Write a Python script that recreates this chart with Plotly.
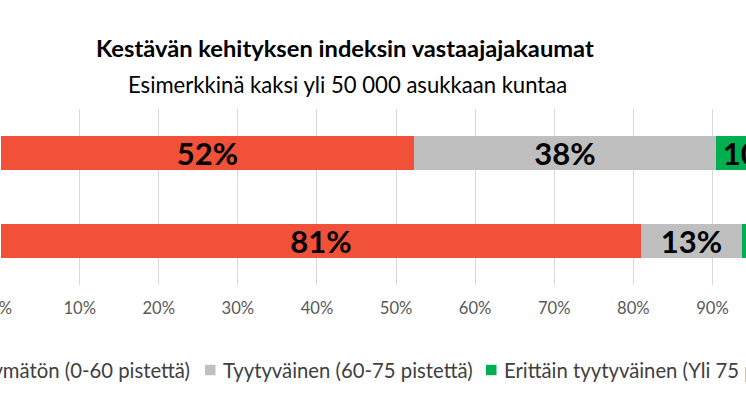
import plotly.graph_objects as go

# ---- data ----
categories = ["Kunta A", "Kunta B"]
series_names = [
    "Tyytymätön (0-60 pistettä)",
    "Tyytyväinen (60-75 pistettä)",
    "Erittäin tyytyväinen (Yli 75 pistettä)",
]
tyytymaton = [0.523, 0.810]
tyytyvainen = [0.381, 0.127]
erittain = [0.096, 0.063]
colors = ["#F15039", "#BFBFBF", "#00B050"]
tick_values = [0, 0.1, 0.2, 0.3, 0.4, 0.5, 0.6, 0.7, 0.8, 0.9, 1.0]

title_text = "Kestävän kehityksen indeksin vastaajajakaumat"
subtitle_text = "Esimerkkinä kaksi yli 50 000 asukkaan kuntaa"

W, H = 746, 419
FONT = "Lato"
PLOT_TOP, PLOT_BOTTOM = 109, 285

fig = go.Figure()
for name, vals, col in zip(series_names, [tyytymaton, tyytyvainen, erittain], colors):
    fig.add_trace(go.Bar(
        y=categories, x=vals, name=name, orientation="h",
        marker=dict(color=col, line=dict(width=0)),
        texttemplate="%{x:.0%}", textposition="inside", insidetextanchor="middle",
        textangle=0, constraintext="none",
        textfont=dict(family=FONT, size=31, color="black", weight="bold"),
        showlegend=False,
    ))

def py(pix):
    return (PLOT_BOTTOM - pix) / (PLOT_BOTTOM - PLOT_TOP)

def px(pix):
    return pix / W

annotations = [
    dict(text="<b>" + title_text + "</b>", x=px(345), y=py(48), xref="paper", yref="paper",
         xanchor="center", yanchor="middle", showarrow=False,
         font=dict(family=FONT, size=23.7, color="black")),
    dict(text=subtitle_text, x=px(347), y=py(85), xref="paper", yref="paper",
         xanchor="center", yanchor="middle", showarrow=False,
         font=dict(family=FONT, size=22.1, color="black")),
]

# legend drawn manually (the original legend is wider than the visible area)
leg_y = 369.5
leg_font = dict(family=FONT, size=20.3, color="#404040")
leg_items = [
    (192.3, "right", -85),
    (220.5, "left", 205),
    (502, "left", 486),
]
shapes = []
for (tx, anchor, sq), name, col in zip(leg_items, series_names, colors):
    annotations.append(dict(text=name, x=px(tx), y=py(leg_y), xref="paper", yref="paper",
                            xanchor=anchor, yanchor="middle", showarrow=False, font=leg_font))
    shapes.append(dict(type="rect", xref="paper", yref="paper",
                       x0=px(sq), x1=px(sq + 10.5), y0=py(leg_y + 0.5 - 5.2), y1=py(leg_y + 0.5 + 5.2),
                       fillcolor=col, line=dict(width=0)))

scale = 790.9
r0 = -0.6 / scale
r1 = r0 + W / scale

fig.update_layout(
    width=W, height=H,
    margin=dict(l=0, r=0, t=PLOT_TOP, b=H - PLOT_BOTTOM, pad=0, autoexpand=False),
    barmode="stack", bargap=0.614,
    plot_bgcolor="white", paper_bgcolor="white",
    font=dict(family=FONT, color="#595959"),
    xaxis=dict(range=[r0, r1], tickvals=tick_values, tickformat=".0%",
               showgrid=True, gridcolor="#D9D9D9", gridwidth=1, zeroline=False,
               showline=False, ticks="", ticklabelstandoff=11,
               ticklabeloverflow="allow", automargin=False,
               tickfont=dict(family=FONT, size=16.6, color="#595959")),
    yaxis=dict(autorange="reversed", showticklabels=False, showgrid=False,
               zeroline=False, showline=False, automargin=False),
    annotations=annotations, shapes=shapes,
    showlegend=False,
)

fig.write_html("out.html", config={"displayModeBar": False},
               post_script="document.body.style.margin='0';document.body.style.overflow='hidden';")
